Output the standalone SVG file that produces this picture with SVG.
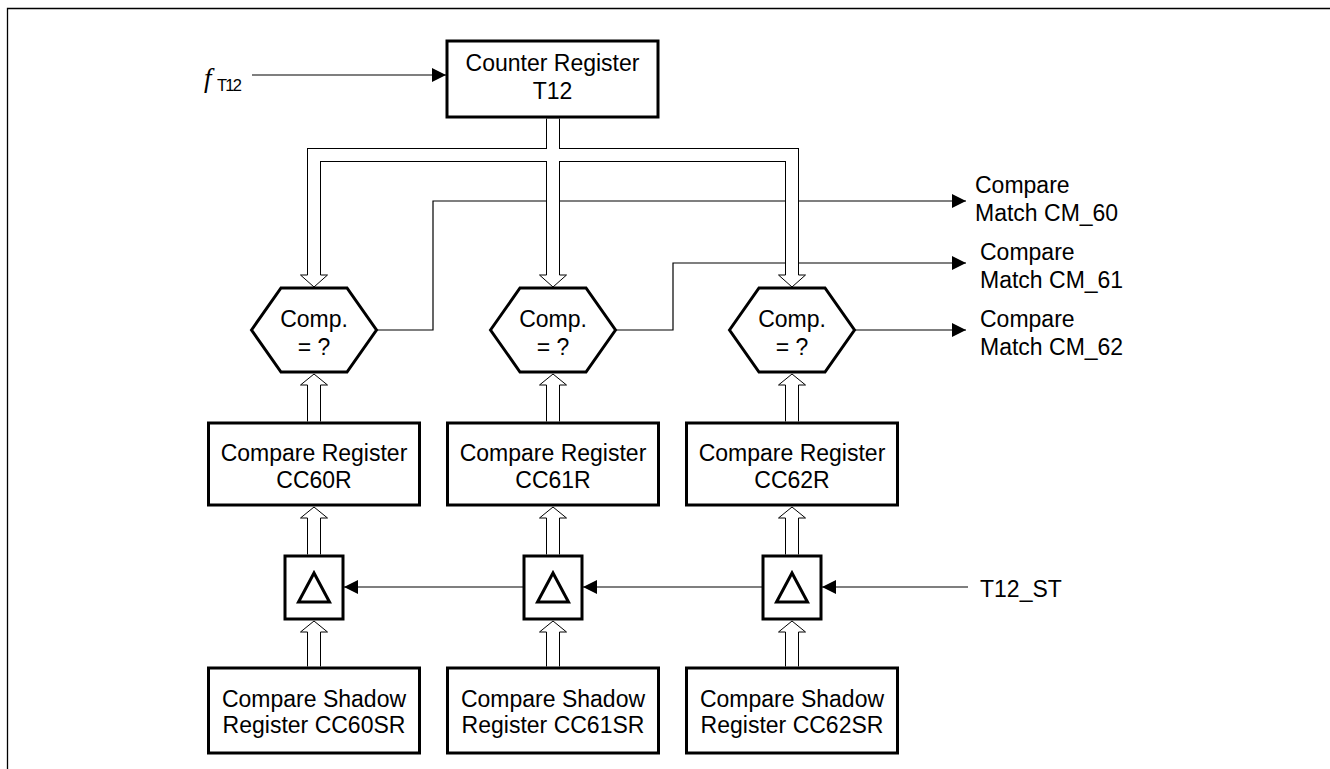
<svg xmlns="http://www.w3.org/2000/svg" width="1330" height="769" viewBox="0 0 1330 769">
<style>
  text { font-family: "Liberation Sans", Arial, sans-serif; font-size: 23px; fill: #000; }
  .c { text-anchor: middle; }
  .box { fill: #fff; stroke: #000; stroke-width: 3; }
  .sig { fill: none; stroke: #000; stroke-width: 1.2; }
  .busb { fill: none; stroke: #000; stroke-width: 14; stroke-linejoin: miter; stroke-linecap: butt; }
  .busw { fill: none; stroke: #fff; stroke-width: 12; stroke-linejoin: miter; stroke-linecap: butt; }
  .head { fill: #fff; stroke: #000; stroke-width: 1; }
  .blk { fill: #fff; stroke: #000; stroke-width: 1; }
</style>
<defs>
  <marker id="ah" markerUnits="userSpaceOnUse" markerWidth="15" markerHeight="15" refX="14" refY="7" orient="auto">
    <path d="M0,0 L14,7 L0,14 z" fill="#000"/>
  </marker>
</defs>
<rect width="1330" height="769" fill="#fff"/>
<path d="M7.5,769 V8.5 H1330" fill="none" stroke="#000" stroke-width="1.3"/>

<g id="connectors">
  <!-- clock input -->
  <line class="sig" x1="252" y1="75" x2="446" y2="75" marker-end="url(#ah)"/>
  <!-- compare match outputs -->
  <polyline class="sig" points="376,330 433,330 433,201 966,201" marker-end="url(#ah)"/>
  <polyline class="sig" points="615,330 673,330 673,263 966,263" marker-end="url(#ah)"/>
  <polyline class="sig" points="854,330 966,330" marker-end="url(#ah)"/>
  <!-- T12_ST chain -->
  <line class="sig" x1="968" y1="587" x2="822" y2="587" marker-end="url(#ah)"/>
  <line class="sig" x1="763" y1="587" x2="583" y2="587" marker-end="url(#ah)"/>
  <line class="sig" x1="524" y1="587" x2="344" y2="587" marker-end="url(#ah)"/>
  <!-- top bus from counter register -->
  <path class="busb" d="M553,118.5 V275 M314,275 V155 H792 V275"/>
  <path class="busw" d="M553,118.5 V275 M314,275 V155 H792 V275"/>
  <path class="head" d="M307.5,275 H300.5 L314,287 L327.5,275 H320.5"/>
  <path class="head" d="M546.5,275 H539.5 L553,287 L566.5,275 H559.5"/>
  <path class="head" d="M785.5,275 H778.5 L792,287 L805.5,275 H798.5"/>
  <!-- column buses -->
  <g id="bus-col1">
    <path class="blk" d="M307.5,421.5 V385 H300.5 L314,374 L327.5,385 H320.5 V421.5"/>
    <path class="blk" d="M307.5,554.5 V518 H300.5 L314,507 L327.5,518 H320.5 V554.5"/>
    <path class="blk" d="M307.5,666.5 V632 H300.5 L314,621 L327.5,632 H320.5 V666.5"/>
  </g>
  <g id="bus-col2">
    <path class="blk" d="M546.5,421.5 V385 H539.5 L553,374 L566.5,385 H559.5 V421.5"/>
    <path class="blk" d="M546.5,554.5 V518 H539.5 L553,507 L566.5,518 H559.5 V554.5"/>
    <path class="blk" d="M546.5,666.5 V632 H539.5 L553,621 L566.5,632 H559.5 V666.5"/>
  </g>
  <g id="bus-col3">
    <path class="blk" d="M785.5,421.5 V385 H778.5 L792,374 L805.5,385 H798.5 V421.5"/>
    <path class="blk" d="M785.5,554.5 V518 H778.5 L792,507 L805.5,518 H798.5 V554.5"/>
    <path class="blk" d="M785.5,666.5 V632 H778.5 L792,621 L805.5,632 H798.5 V666.5"/>
  </g>
</g>

<g id="fT12-label">
  <text x="204" y="87" style="font-family:'Liberation Serif','Times New Roman',serif;font-style:italic;font-size:27px">f</text>
  <text x="217" y="91" style="font-size:16.5px" textLength="25">T12</text>
</g>

<g id="counter-register">
  <rect class="box" x="447" y="41" width="211" height="76"/>
  <text class="c" x="552.5" y="71">Counter Register</text>
  <text class="c" x="552.5" y="99">T12</text>
</g>

<g id="comp0">
  <polygon class="box" points="251.5,330 281,288 347,288 376.5,330 347,372 281,372"/>
  <text class="c" x="314" y="327">Comp.</text>
  <text class="c" x="314" y="355">= ?</text>
</g>
<g id="comp1">
  <polygon class="box" points="490.5,330 520,288 586,288 615.5,330 586,372 520,372"/>
  <text class="c" x="553" y="327">Comp.</text>
  <text class="c" x="553" y="355">= ?</text>
</g>
<g id="comp2">
  <polygon class="box" points="729.5,330 759,288 825,288 854.5,330 825,372 759,372"/>
  <text class="c" x="792" y="327">Comp.</text>
  <text class="c" x="792" y="355">= ?</text>
</g>

<g id="cm60-label">
  <text x="975" y="193">Compare</text>
  <text x="975" y="221">Match CM_60</text>
</g>
<g id="cm61-label">
  <text x="980" y="260">Compare</text>
  <text x="980" y="288">Match CM_61</text>
</g>
<g id="cm62-label">
  <text x="980" y="327">Compare</text>
  <text x="980" y="355">Match CM_62</text>
</g>

<g id="cc60r">
  <rect class="box" x="208.5" y="423" width="211" height="82"/>
  <text class="c" x="314" y="461">Compare Register</text>
  <text class="c" x="314" y="487.5">CC60R</text>
</g>
<g id="cc61r">
  <rect class="box" x="447.5" y="423" width="211" height="82"/>
  <text class="c" x="553" y="461">Compare Register</text>
  <text class="c" x="553" y="487.5">CC61R</text>
</g>
<g id="cc62r">
  <rect class="box" x="686.5" y="423" width="211" height="82"/>
  <text class="c" x="792" y="461">Compare Register</text>
  <text class="c" x="792" y="487.5">CC62R</text>
</g>

<g id="delta0">
  <rect class="box" x="285" y="556" width="58" height="63"/>
  <polygon points="314,573 298.5,602 329.5,602" fill="none" stroke="#000" stroke-width="3" stroke-linejoin="miter"/>
</g>
<g id="delta1">
  <rect class="box" x="524" y="556" width="58" height="63"/>
  <polygon points="553,573 537.5,602 568.5,602" fill="none" stroke="#000" stroke-width="3" stroke-linejoin="miter"/>
</g>
<g id="delta2">
  <rect class="box" x="763" y="556" width="58" height="63"/>
  <polygon points="792,573 776.5,602 807.5,602" fill="none" stroke="#000" stroke-width="3" stroke-linejoin="miter"/>
</g>

<g id="t12st-label">
  <text x="980" y="597">T12_ST</text>
</g>

<g id="cc60sr">
  <rect class="box" x="208.5" y="668" width="211" height="85"/>
  <text class="c" x="314" y="707">Compare Shadow</text>
  <text class="c" x="314" y="733">Register CC60SR</text>
</g>
<g id="cc61sr">
  <rect class="box" x="447.5" y="668" width="211" height="85"/>
  <text class="c" x="553" y="707">Compare Shadow</text>
  <text class="c" x="553" y="733">Register CC61SR</text>
</g>
<g id="cc62sr">
  <rect class="box" x="686.5" y="668" width="211" height="85"/>
  <text class="c" x="792" y="707">Compare Shadow</text>
  <text class="c" x="792" y="733">Register CC62SR</text>
</g>
</svg>
